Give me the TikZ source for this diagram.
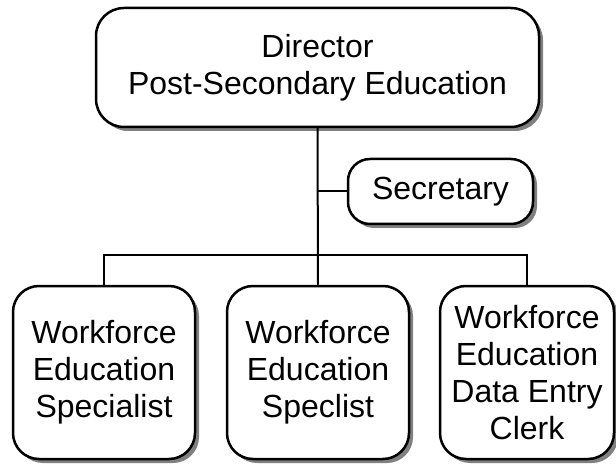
\documentclass[tikz,border=0pt]{standalone}
\usepackage{fontspec}
\setmainfont{Liberation Sans}
\usetikzlibrary{shadows}
\begin{document}
\begin{tikzpicture}[x=1pt,y=-1pt,
  box/.style={draw=black, line width=2.5pt, fill=white, align=center,
    inner sep=0pt, font=\fontsize{32}{37}\selectfont,
    drop shadow={shadow xshift=4pt, shadow yshift=-4pt, fill=black!50, opacity=1}},
  conn/.style={draw=black, line width=2pt}]
\useasboundingbox (0,0) rectangle (616,465);
\node[box, rounded corners=28pt, minimum width=443pt, minimum height=119pt] (dir) at (317.5,67.5) {Director\\Post-Secondary Education};
\node[box, rounded corners=22pt, minimum width=185pt, minimum height=65pt] (sec) at (440.5,191.5) {Secretary};
\node[box, rounded corners=26pt, minimum width=182pt, minimum height=173pt] (b1) at (104,372.5) {Workforce\\Education\\Specialist};
\node[box, rounded corners=26pt, minimum width=182pt, minimum height=173pt] (b2) at (318,372.5) {Workforce\\Education\\Speclist};
\node[box, rounded corners=26pt, minimum width=174pt, minimum height=173pt] (b3) at (527,372.5) {Workforce\\Education\\Data Entry\\Clerk};
\draw[conn] (dir.south) -- (b2.north);
\draw[conn] (sec.west) -- (sec.west -| dir.south);
\draw[conn] (b1.north) -- ++(0,-30) -| (b3.north);
\end{tikzpicture}
\end{document}
